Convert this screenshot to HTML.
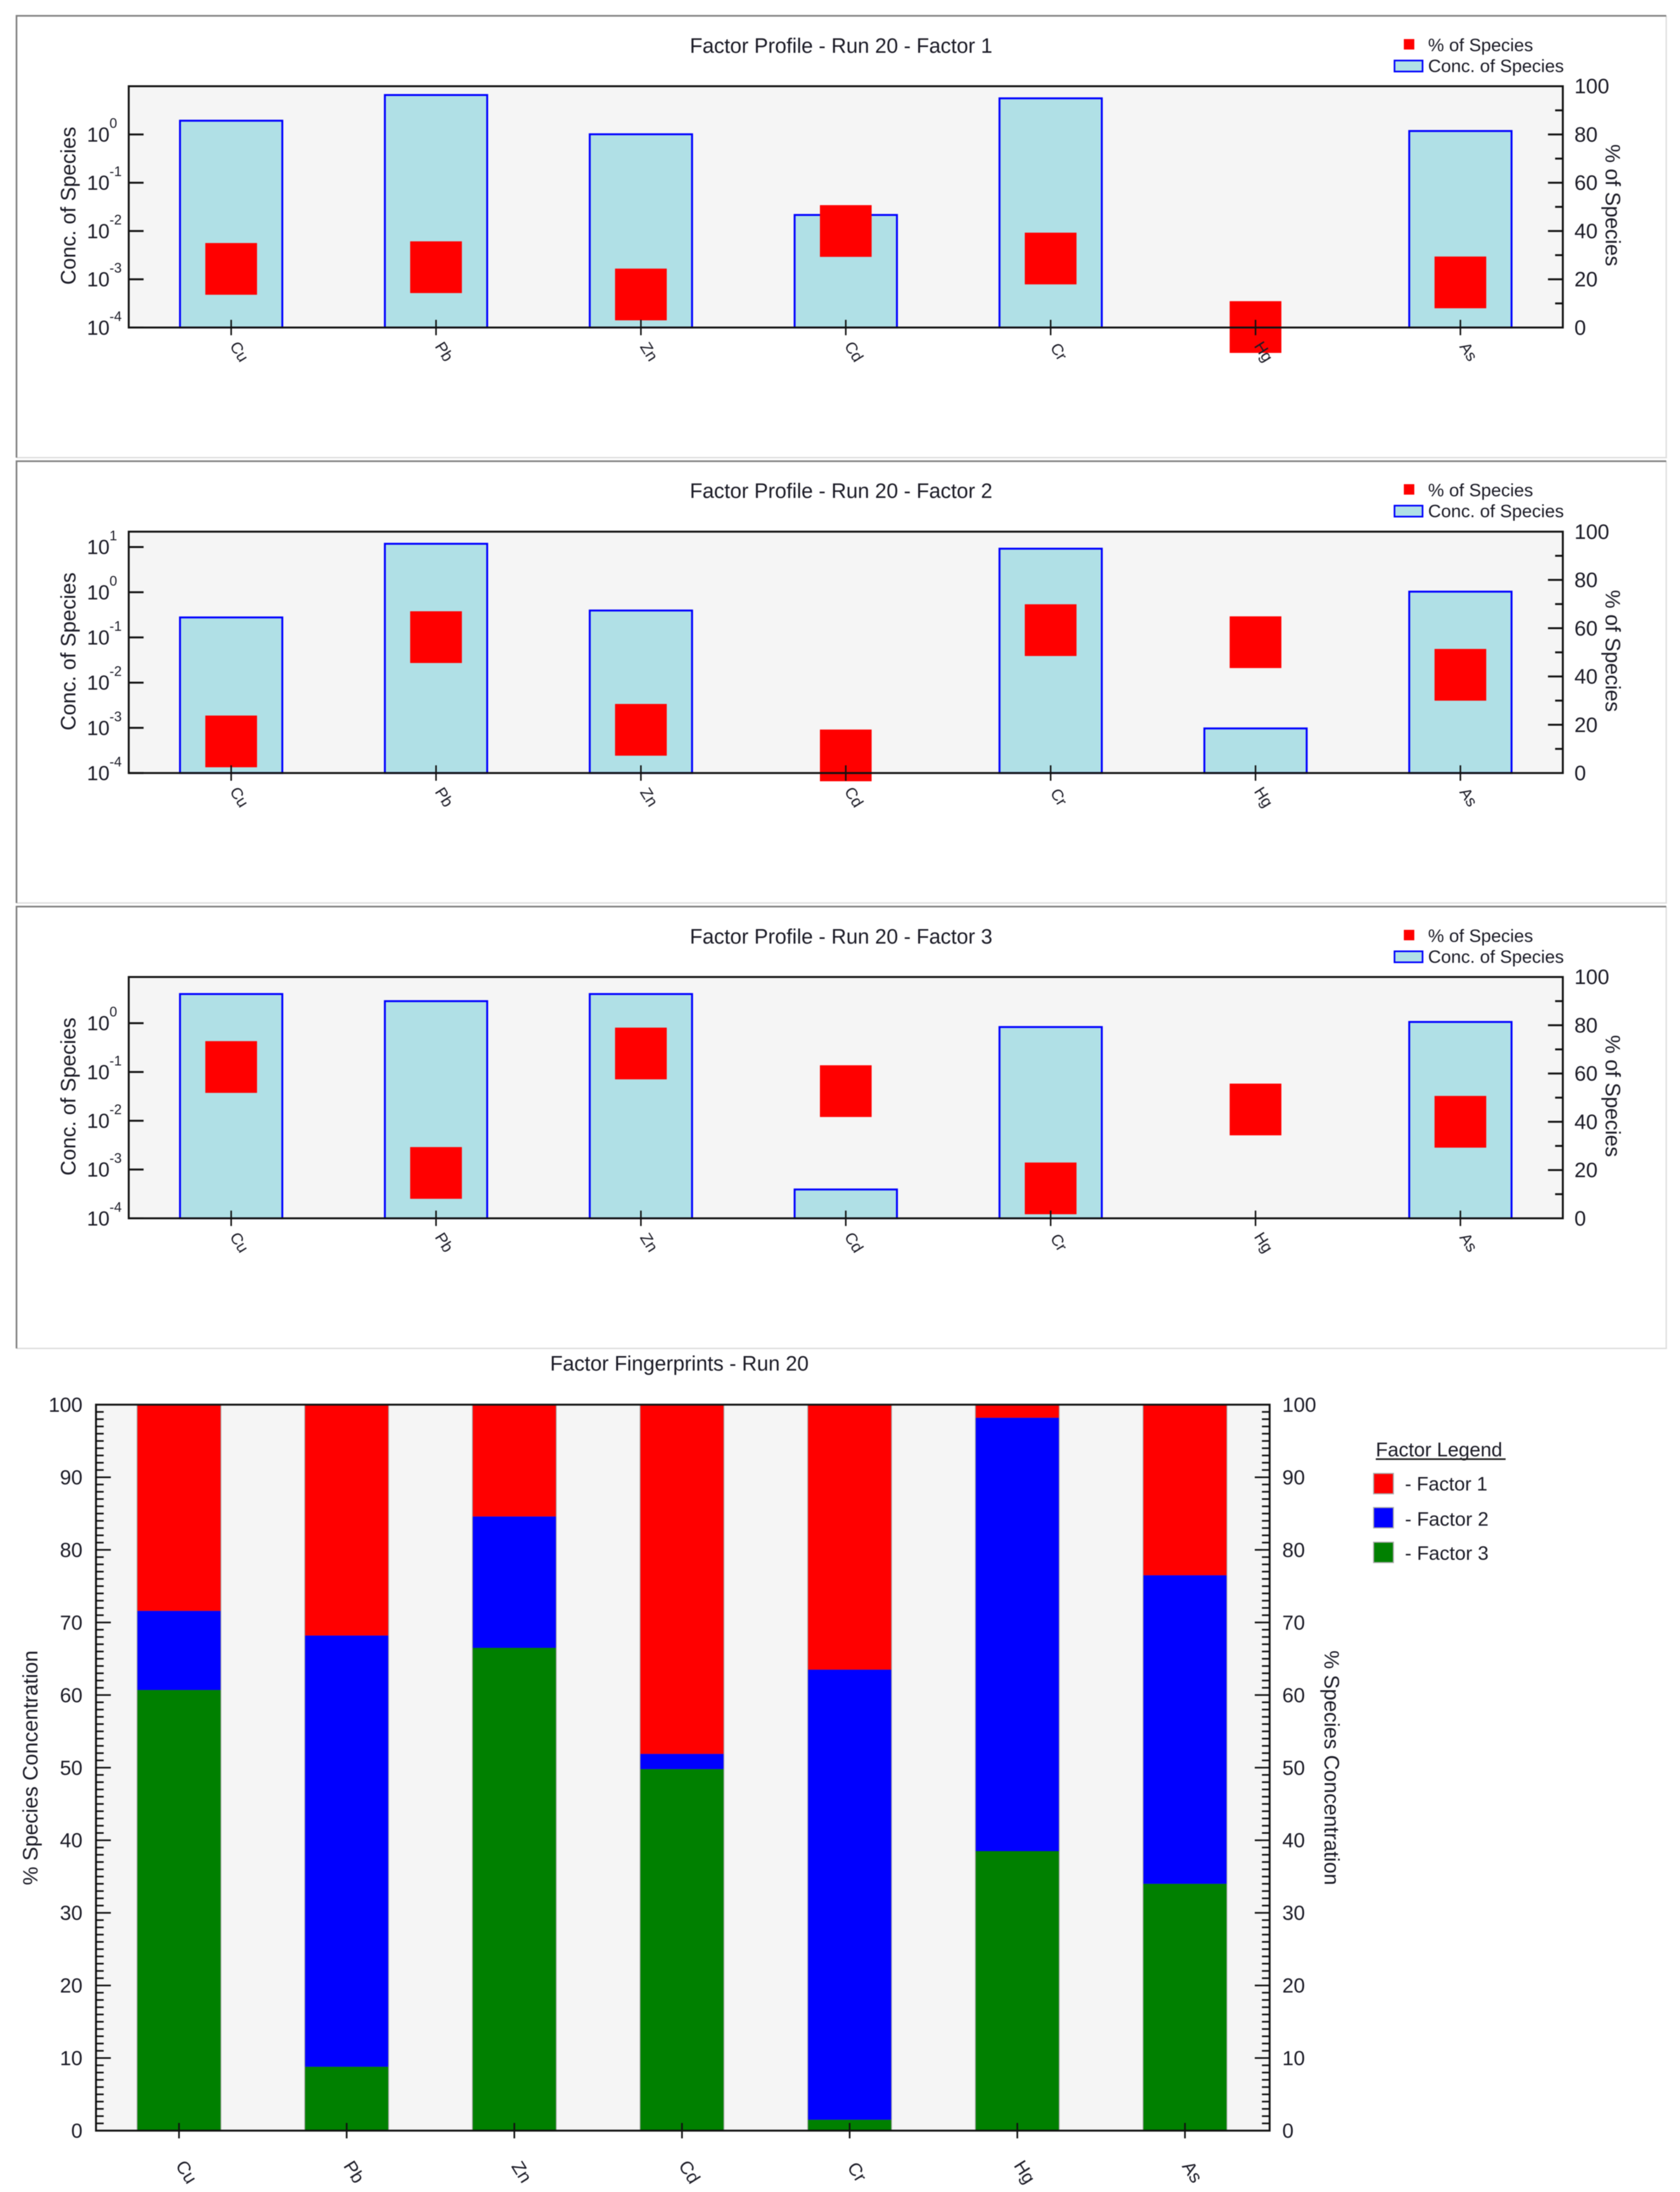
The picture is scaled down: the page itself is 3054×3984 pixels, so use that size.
<!DOCTYPE html>
<html lang="en">
<head>
<meta charset="utf-8">
<title>Factor Profiles and Fingerprints - Run 20</title>
<style>
html,body{margin:0;padding:0;background:#fff;width:3054px;height:3984px;overflow:hidden}
svg{display:block;filter:blur(.7px)}
text{font-family:"Liberation Sans",Arial,sans-serif;fill:#1b1b26}
</style>
</head>
<body>
<svg id="chart" xmlns="http://www.w3.org/2000/svg" width="3054" height="3984" viewBox="0 0 3054 3984">
  <rect x="0" y="0" width="3054" height="3984" fill="#ffffff"/>

  <g id="panel-1">
    <text x="1254" y="96" font-size="38" textLength="550" lengthAdjust="spacingAndGlyphs">Factor Profile - Run 20 - Factor 1</text>
    <text transform="translate(137,374) rotate(-90)" text-anchor="middle" font-size="38">Conc. of Species</text>
    <text transform="translate(2919,373) rotate(90)" text-anchor="middle" font-size="38">% of Species</text>
    <rect x="2552" y="71" width="19" height="19" fill="#ff0000"/>
    <text x="2596" y="93" font-size="32" textLength="191" lengthAdjust="spacingAndGlyphs">% of Species</text>
    <rect x="2535" y="110" width="51" height="20" fill="#b0e0e6" stroke="#0000ff" stroke-width="3"/>
    <text x="2596" y="131" font-size="32" textLength="247" lengthAdjust="spacingAndGlyphs">Conc. of Species</text>
  </g>

  <g id="panel-2">
    <text x="1254" y="905" font-size="38" textLength="550" lengthAdjust="spacingAndGlyphs">Factor Profile - Run 20 - Factor 2</text>
    <text transform="translate(137,1184) rotate(-90)" text-anchor="middle" font-size="38">Conc. of Species</text>
    <text transform="translate(2919,1183) rotate(90)" text-anchor="middle" font-size="38">% of Species</text>
    <rect x="2552" y="880" width="19" height="19" fill="#ff0000"/>
    <text x="2596" y="902" font-size="32" textLength="191" lengthAdjust="spacingAndGlyphs">% of Species</text>
    <rect x="2535" y="919" width="51" height="20" fill="#b0e0e6" stroke="#0000ff" stroke-width="3"/>
    <text x="2596" y="940" font-size="32" textLength="247" lengthAdjust="spacingAndGlyphs">Conc. of Species</text>
  </g>

  <g id="panel-3">
    <text x="1254" y="1715" font-size="38" textLength="550" lengthAdjust="spacingAndGlyphs">Factor Profile - Run 20 - Factor 3</text>
    <text transform="translate(137,1993) rotate(-90)" text-anchor="middle" font-size="38">Conc. of Species</text>
    <text transform="translate(2919,1992) rotate(90)" text-anchor="middle" font-size="38">% of Species</text>
    <rect x="2552" y="1690" width="19" height="19" fill="#ff0000"/>
    <text x="2596" y="1712" font-size="32" textLength="191" lengthAdjust="spacingAndGlyphs">% of Species</text>
    <rect x="2535" y="1729" width="51" height="20" fill="#b0e0e6" stroke="#0000ff" stroke-width="3"/>
    <text x="2596" y="1750" font-size="32" textLength="247" lengthAdjust="spacingAndGlyphs">Conc. of Species</text>
  </g>

  <g id="fingerprint">
    <text x="1000" y="2491" font-size="38" textLength="470" lengthAdjust="spacingAndGlyphs">Factor Fingerprints - Run 20</text>
    <text transform="translate(68,3213) rotate(-90)" text-anchor="middle" font-size="38">% Species Concentration</text>
    <text transform="translate(2408,3213) rotate(90)" text-anchor="middle" font-size="38">% Species Concentration</text>
    <text x="2501" y="2647" font-size="36" textLength="230" lengthAdjust="spacingAndGlyphs">Factor Legend</text>
    <line x1="2501" y1="2652" x2="2737" y2="2652" stroke="#222" stroke-width="3"/>
    <rect x="2497" y="2678" width="36" height="37" fill="#ff0000" stroke="#aaa" stroke-width="2"/>
    <text x="2554" y="2709" font-size="35" textLength="150" lengthAdjust="spacingAndGlyphs">- Factor 1</text>
    <rect x="2497" y="2740" width="36" height="37" fill="#0000ff" stroke="#aaa" stroke-width="2"/>
    <text x="2554" y="2773" font-size="35" textLength="152" lengthAdjust="spacingAndGlyphs">- Factor 2</text>
    <rect x="2497" y="2803" width="36" height="37" fill="#008000" stroke="#aaa" stroke-width="2"/>
    <text x="2554" y="2835" font-size="35" textLength="152" lengthAdjust="spacingAndGlyphs">- Factor 3</text>
  </g>
</svg>

<script>
// ---- data ----
const categories = ['Cu', 'Pb', 'Zn', 'Cd', 'Cr', 'Hg', 'As'];

const factor1Conc = [1.93, 6.57, 1.01, 0.0215, 5.61, null, 1.18];
const factor1Pct = [24.3, 25.0, 13.7, 40.0, 28.6, 0.2, 18.7];
const factor2Conc = [0.277, 11.8, 0.394, null, 9.19, 0.00097, 1.03];
const factor2Pct = [13.1, 56.3, 17.9, 7.3, 59.2, 54.2, 40.7];
const factor3Conc = [3.96, 2.83, 3.96, 0.00039, 0.834, null, 1.06];
const factor3Pct = [62.7, 18.8, 68.3, 52.7, 12.4, 45.1, 40.0];

const factor1Exponents = [0, -1, -2, -3, -4];
const factor2Exponents = [1, 0, -1, -2, -3, -4];
const factor3Exponents = [0, -1, -2, -3, -4];
const pctTickLabels = [0, 20, 40, 60, 80, 100];
const pctMinorTicks = [10, 30, 50, 70, 90];

const stackFactor1 = [28.4, 31.8, 15.4, 48.1, 36.5, 1.8, 23.5];
const stackFactor2 = [10.9, 59.4, 18.1, 2.1, 62.0, 59.7, 42.5];
const stackFactor3 = [60.7, 8.8, 66.5, 49.8, 1.5, 38.5, 34.0];
const fingerprintTickLabels = [0, 10, 20, 30, 40, 50, 60, 70, 80, 90, 100];

// ---- helpers ----
const NS = 'http://www.w3.org/2000/svg';
function make(parent, tag, props) {
  const node = document.createElementNS(NS, tag);
  for (const k in props) node.setAttribute(k, props[k]);
  parent.appendChild(node);
  return node;
}
function frame(parent, name, top, bottom) {
  const left = 30, right = 3029;
  let el = make(parent, 'path', {d: `M${right} ${top}V${bottom}H${left}`, fill: 'none', stroke: '#dddddd', 'stroke-width': 2.5});
  
  
  el = make(parent, 'path', {d: `M${left} ${bottom}V${top}H${right}`, fill: 'none', stroke: '#808080', 'stroke-width': 3});
  
  
}

// ---- factor profile panels ----
function drawProfile(parent, name, top, bottom, logMax, conc, pct, exponents) {
  const left = 234, right = 2841;
  const band = (right - left) / categories.length;
  const xCenter = i => left + (i + 0.5) * band;
  const yLog = v => bottom - (Math.log10(v) + 4) / (logMax + 4) * (bottom - top);
  const yPct = v => bottom - v / 100 * (bottom - top);

  frame(parent, name, top - 128, top + 675);

  let el = make(parent, 'rect', {x: left, y: top, width: right - left, height: bottom - top, fill: '#f5f5f5'});
  
  

  conc.forEach((v, i) => {
    if (v === null) return;
    const bar = make(parent, 'rect', {x: xCenter(i) - 93, y: yLog(v), width: 186, height: bottom - yLog(v), fill: '#b0e0e6', stroke: '#0000ff', 'stroke-width': 3.5});
    
    
  });
  pct.forEach((v, i) => {
    const mark = make(parent, 'rect', {x: xCenter(i) - 47, y: yPct(v) - 47, width: 94, height: 94, fill: '#ff0000'});
    
    
  });

  el = make(parent, 'rect', {x: left, y: top, width: right - left, height: bottom - top, fill: 'none', stroke: '#111', 'stroke-width': 3.5});
  
  

  exponents.forEach(exp => {
    const y = yLog(Math.pow(10, exp));
    const tick = make(parent, 'line', {x1: left, y1: y, x2: left + 27, y2: y, stroke: '#111', 'stroke-width': 3.5});
    
    
    const base = make(parent, 'text', {x: 158, y: y + 13, 'font-size': 37});
    base.textContent = '10';
    
    
    const sup = make(parent, 'text', {x: 199, y: y - 12, 'font-size': 25});
    sup.textContent = String(exp);
    
    
  });

  pctTickLabels.forEach(v => {
    const y = yPct(v);
    if (v > 0 && v < 100) {
      const tick = make(parent, 'line', {x1: right - 27, y1: y, x2: right, y2: y, stroke: '#111', 'stroke-width': 3.5});
      
      
    }
    const label = make(parent, 'text', {x: 2862, y: y + 13, 'font-size': 38});
    label.textContent = String(v);
    
    
  });
  pctMinorTicks.forEach(v => {
    const tick = make(parent, 'line', {x1: right - 14, y1: yPct(v), x2: right, y2: yPct(v), stroke: '#111', 'stroke-width': 3.5});
    
    
  });

  categories.forEach((c, i) => {
    const x = xCenter(i);
    const tick = make(parent, 'line', {x1: x, y1: bottom - 14, x2: x, y2: bottom + 14, stroke: '#111', 'stroke-width': 2.8});
    
    
    const label = make(parent, 'text', {transform: `translate(${x + 6.5},${bottom + 49}) rotate(58)`, 'text-anchor': 'middle', 'font-size': 29});
    label.textContent = c;
    
    
  });
}

drawProfile(document.getElementById('panel-1'), 'factor-1', 156.7, 595.3, 1.0, factor1Conc, factor1Pct, factor1Exponents);
drawProfile(document.getElementById('panel-2'), 'factor-2', 966.3, 1405, 1.34, factor2Conc, factor2Pct, factor2Exponents);
drawProfile(document.getElementById('panel-3'), 'factor-3', 1775.7, 2214.3, 0.947, factor3Conc, factor3Pct, factor3Exponents);

// ---- fingerprint stacked bars ----
function drawFingerprint(parent) {
  const left = 174.5, right = 2308, top = 2553, bottom = 3872.5;
  const band = (right - left) / categories.length;
  const xCenter = i => left + (i + 0.5) * band - 1.5;
  const yVal = v => bottom - v / 100 * (bottom - top);
  const barW = 151;

  let el = make(parent, 'rect', {x: left, y: top, width: right - left, height: bottom - top, fill: '#f5f5f5'});
  
  

  categories.forEach((c, i) => {
    const x = xCenter(i) - barW / 2;
    const edge = make(parent, 'rect', {x: x - 1.5, y: top, width: barW + 3, height: bottom - top, fill: '#a8a8a8'});
    
    

    const g3 = stackFactor3[i], g2 = stackFactor2[i], g1 = stackFactor1[i];
    const seg3 = make(parent, 'rect', {x: x, y: yVal(g3), width: barW, height: yVal(0) - yVal(g3), fill: '#008000'});
    
    
    const seg2 = make(parent, 'rect', {x: x, y: yVal(g3 + g2), width: barW, height: yVal(g3) - yVal(g3 + g2), fill: '#0000ff'});
    
    
    const seg1 = make(parent, 'rect', {x: x, y: yVal(g3 + g2 + g1), width: barW, height: yVal(g3 + g2) - yVal(g3 + g2 + g1), fill: '#ff0000'});
    
    
  });

  el = make(parent, 'rect', {x: left, y: top, width: right - left, height: bottom - top, fill: 'none', stroke: '#111', 'stroke-width': 3.5});
  
  

  for (let v = 1; v < 100; v++) {
    const major = v % 10 === 0;
    const len = major ? 27 : 14;
    const leftTick = make(parent, 'line', {x1: left, y1: yVal(v), x2: left + len, y2: yVal(v), stroke: '#111', 'stroke-width': 3});
    
    
    const rightTick = make(parent, 'line', {x1: right - len, y1: yVal(v), x2: right, y2: yVal(v), stroke: '#111', 'stroke-width': 3});
    
    
  }

  fingerprintTickLabels.forEach(v => {
    const l = make(parent, 'text', {x: 150, y: yVal(v) + 13, 'text-anchor': 'end', 'font-size': 37});
    l.textContent = String(v);
    
    
    const r = make(parent, 'text', {x: 2331, y: yVal(v) + 13, 'font-size': 37});
    r.textContent = String(v);
    
    
  });

  categories.forEach((c, i) => {
    const x = xCenter(i);
    const tick = make(parent, 'line', {x1: x, y1: bottom - 14, x2: x, y2: bottom + 14, stroke: '#111', 'stroke-width': 3});
    
    
    const label = make(parent, 'text', {transform: `translate(${x + 4},${bottom + 81}) rotate(58)`, 'text-anchor': 'middle', 'font-size': 33});
    label.textContent = c;
    
    
  });
}
drawFingerprint(document.getElementById('fingerprint'));
</script>
</body>
</html>
